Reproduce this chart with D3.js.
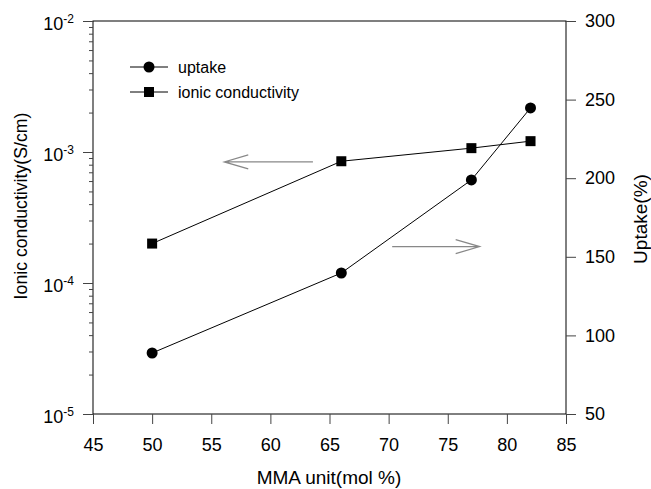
<!DOCTYPE html>
<html>
<head>
<meta charset="utf-8">
<script src="https://cdn.jsdelivr.net/npm/d3@7"></script>
<style>
  body { margin: 0; background: #fff; }
  svg { display: block; font-family: "Liberation Sans", Arial, sans-serif; }
</style>
</head>
<body>
<svg id="chart" width="651" height="489"></svg>
<script>
// data
const mma = [50, 66, 77, 82];
const conductivity = [2.0e-4, 8.5e-4, 1.07e-3, 1.21e-3];
const uptake = [88.8, 139.7, 198.9, 244.7];

const xTicks = [45, 50, 55, 60, 65, 70, 75, 80, 85];
const leftDecades = [1e-5, 1e-4, 1e-3, 1e-2];
const leftExponents = ["-5", "-4", "-3", "-2"];
const rightTicks = [50, 100, 150, 200, 250, 300];

// plot area
const margin = {top: 21, right: 85, bottom: 75, left: 93},
    width = 651 - margin.left - margin.right,
    height = 489 - margin.top - margin.bottom;

const svg = d3.select("#chart");
const g = svg.append("g").attr("transform", `translate(${margin.left},${margin.top})`);

const x = d3.scaleLinear().domain([45, 85]).range([0, width]);
const yL = d3.scaleLog().domain([1e-5, 1e-2]).range([height, 0]);
const yR = d3.scaleLinear().domain([50, 300]).range([height, 0]);

// minor log ticks
const minors = [];
for (let i = 0; i < 3; i++) {
    for (let k = 2; k <= 9; k++) minors.push(k * leftDecades[i]);
}

// frame
g.append("rect")
    .attr("width", width).attr("height", height)
    .attr("fill", "none").attr("stroke", "#000").attr("stroke-width", 1);

function styleAxis(sel) {
    sel.select(".domain").remove();
    sel.selectAll(".tick line").attr("stroke", "#444");
    sel.selectAll("text").attr("font-size", 18).attr("fill", "#000");
}

// bottom axis
g.append("g")
    .attr("transform", `translate(0,${height})`)
    .call(d3.axisBottom(x).tickValues(xTicks).tickSize(10).tickPadding(14).tickSizeOuter(0))
    .call(styleAxis);

// left axis - majors
g.append("g")
    .call(d3.axisLeft(yL).tickValues(leftDecades).tickSize(10).tickFormat("").tickSizeOuter(0))
    .call(styleAxis);
// left axis - minors
g.append("g")
    .call(d3.axisLeft(yL).tickValues(minors).tickSize(4).tickFormat("").tickSizeOuter(0))
    .call(styleAxis);

// left labels 10^n
leftDecades.forEach(function (d, i) {
    const t = g.append("text")
        .attr("x", -19).attr("y", yL(d) + 9)
        .attr("text-anchor", "end")
        .attr("font-size", 18);
    t.append("tspan").text("10");
    t.append("tspan").attr("font-size", 12).attr("dy", -7).text(leftExponents[i]);
});

// right axis
g.append("g")
    .attr("transform", `translate(${width},0)`)
    .call(d3.axisRight(yR).tickValues(rightTicks).tickSize(10).tickPadding(9).tickSizeOuter(0))
    .call(styleAxis);

// lines
const lineCond = d3.line().x((d, i) => x(mma[i])).y(d => yL(d));
const lineUp = d3.line().x((d, i) => x(mma[i])).y(d => yR(d));

g.append("path").datum(conductivity)
    .attr("fill", "none").attr("stroke", "#000").attr("stroke-width", 1)
    .attr("d", lineCond);
g.append("path").datum(uptake)
    .attr("fill", "none").attr("stroke", "#000").attr("stroke-width", 1)
    .attr("d", lineUp);

// markers
g.selectAll(".sq").data(conductivity).enter().append("rect")
    .attr("x", (d, i) => x(mma[i]) - 5)
    .attr("y", d => yL(d) - 5)
    .attr("width", 10).attr("height", 10)
    .attr("fill", "#000");
g.selectAll(".dot").data(uptake).enter().append("circle")
    .attr("cx", (d, i) => x(mma[i]))
    .attr("cy", d => yR(d))
    .attr("r", 5.5)
    .attr("fill", "#000");

// direction arrows
function arrow(x1, x2, yy) {
    const dir = x2 > x1 ? -1 : 1;
    g.append("path")
        .attr("d", `M${x1},${yy}L${x2},${yy}M${x2 + dir * 24},${yy - 7}L${x2},${yy}L${x2 + dir * 24},${yy + 7}`)
        .attr("fill", "none").attr("stroke", "#888").attr("stroke-width", 1.2);
}
arrow(x(63.6), x(56.1), yL(8.4e-4));
arrow(x(70.3), x(77.7), yR(156.5));

// legend
const legend = [
    {label: "uptake", shape: "circle", y: 67},
    {label: "ionic conductivity", shape: "square", y: 92}
];
legend.forEach(function (d) {
    svg.append("line")
        .attr("x1", 130).attr("x2", 168).attr("y1", d.y).attr("y2", d.y)
        .attr("stroke", "#000").attr("stroke-width", 1);
    if (d.shape == "circle") {
        svg.append("circle").attr("cx", 149).attr("cy", d.y).attr("r", 5.5).attr("fill", "#000");
    } else {
        svg.append("rect").attr("x", 144).attr("y", d.y - 5).attr("width", 10).attr("height", 10).attr("fill", "#000");
    }
    svg.append("text")
        .attr("x", 178).attr("y", d.y + 6)
        .attr("font-size", 16)
        .text(d.label);
});

// axis titles
svg.append("text")
    .attr("x", 329).attr("y", 484)
    .attr("text-anchor", "middle").attr("font-size", 19)
    .text("MMA unit(mol %)");
svg.append("text")
    .attr("transform", "translate(27,206) rotate(-90)")
    .attr("text-anchor", "middle").attr("font-size", 17.7)
    .text("Ionic conductivity(S/cm)");
svg.append("text")
    .attr("transform", "translate(647,219) rotate(-90)")
    .attr("text-anchor", "middle").attr("font-size", 19)
    .text("Uptake(%)");
</script>
</body>
</html>
